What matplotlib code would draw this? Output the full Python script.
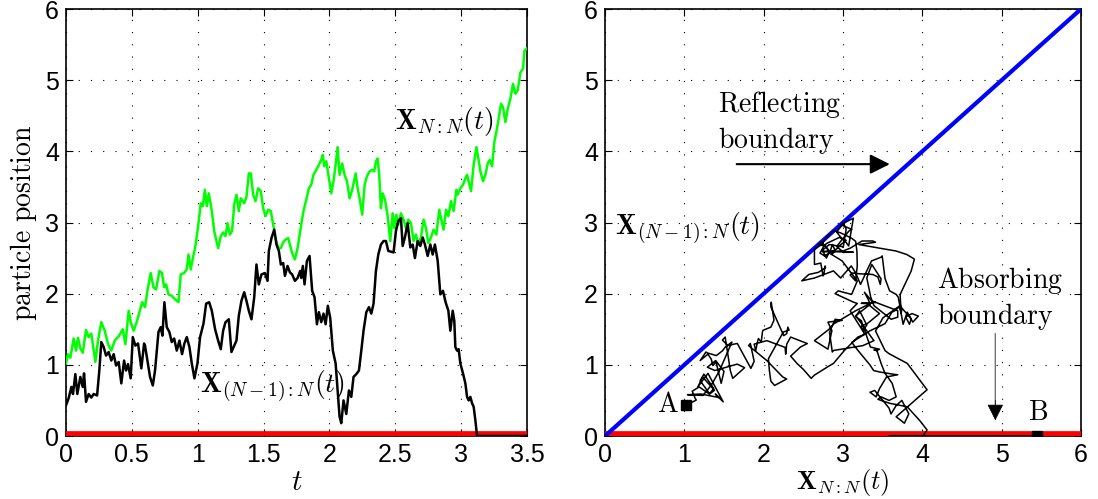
import numpy as np
import matplotlib
matplotlib.use("Agg")
import matplotlib.pyplot as plt

plt.rcParams['mathtext.fontset'] = 'cm'

# ---------------- data ----------------
# top particle X_{N:N}(t)  (green)
t_top = [0, 0.015, 0.033, 0.058, 0.076, 0.091, 0.109, 0.127, 0.152, 0.172, 0.192, 0.223, 0.243, 0.268,
         0.294, 0.319, 0.344, 0.370, 0.400, 0.431, 0.451, 0.476, 0.494, 0.514, 0.540, 0.578,
         0.600, 0.618, 0.643, 0.664, 0.684, 0.709, 0.729, 0.745, 0.760, 0.778, 0.803, 0.828, 0.854,
         0.871, 0.897, 0.917, 0.930, 0.947, 0.963, 0.980, 0.993, 1.008, 1.023, 1.039, 1.054, 1.069,
         1.084, 1.107, 1.125,
         1.155, 1.175, 1.193, 1.211, 1.226, 1.244, 1.261, 1.277, 1.294, 1.312, 1.327, 1.353, 1.370,
         1.388, 1.403, 1.421, 1.439, 1.459, 1.479, 1.497, 1.515, 1.535, 1.555, 1.573, 1.591, 1.611,
         1.631, 1.649, 1.667, 1.687, 1.700, 1.717, 1.738, 1.758, 1.778,
         1.786, 1.803, 1.824, 1.844, 1.862, 1.879, 1.900, 1.920, 1.938, 1.950, 1.960, 1.976, 1.996,
         2.014, 2.031, 2.047, 2.062, 2.077, 2.097, 2.115, 2.133, 2.153, 2.173, 2.199, 2.216, 2.229,
         2.249, 2.267, 2.285, 2.305, 2.325,
         2.340, 2.353, 2.366, 2.378, 2.391, 2.404, 2.422, 2.442, 2.462, 2.480, 2.492, 2.508, 2.523,
         2.543, 2.563, 2.581, 2.599, 2.619, 2.639, 2.657, 2.675, 2.695, 2.715, 2.733, 2.751, 2.771,
         2.791, 2.812, 2.834, 2.852, 2.867, 2.885, 2.903, 2.923, 2.943, 2.964,
         2.974, 2.994, 3.014, 3.032, 3.045, 3.057, 3.075, 3.095, 3.116, 3.131, 3.146, 3.166, 3.184,
         3.202, 3.217, 3.235, 3.252, 3.267, 3.285, 3.303, 3.318, 3.336, 3.354, 3.374, 3.394, 3.412,
         3.430, 3.450, 3.470, 3.480, 3.495]
x_top = [1.02, 1.15, 1.10, 1.37, 1.20, 1.38, 1.23, 1.17, 1.49, 1.39, 1.44, 1.04, 1.34, 1.60,
         1.48, 1.29, 1.20, 1.34, 1.40, 1.50, 1.29, 1.76, 1.58, 1.48, 1.62, 1.88,
         1.81, 2.04, 2.29, 2.09, 2.06, 2.32, 2.29, 2.09, 2.13, 1.99, 1.97, 1.92, 1.88,
         2.27, 2.29, 2.34, 2.55, 2.34, 2.50, 2.64, 2.81, 3.02, 3.27, 3.23, 3.46, 3.23,
         3.41, 3.16, 2.88,
         2.64, 2.81, 2.86, 2.81, 2.99, 2.83, 2.88, 3.25, 3.39, 3.16, 3.34, 3.27, 3.36,
         3.69, 3.69, 3.39, 3.30, 3.48, 3.44, 3.20, 3.09, 3.18, 3.16, 2.97, 2.78, 2.64,
         2.64, 2.72, 2.76, 2.78, 2.69, 2.57, 2.48, 2.64, 2.88,
         2.97, 3.16, 3.32, 3.48, 3.53, 3.67, 3.74, 3.81, 3.88, 3.95, 3.79, 3.86, 3.62,
         3.41, 3.58, 3.81, 4.06, 3.67, 3.83, 3.67, 3.58, 3.34, 3.46, 3.69, 3.46, 3.34,
         3.11, 3.53, 3.65, 3.72, 3.74,
         3.72, 3.86, 3.90, 3.67, 3.20, 3.41, 3.32, 3.09, 2.74, 3.13, 2.92, 3.11, 2.97,
         3.13, 3.04, 2.92, 3.04, 2.99, 2.74, 2.83, 2.69, 2.79, 3.04, 2.92, 2.71, 2.79,
         2.90, 2.83, 3.18, 3.02, 2.90, 3.18, 3.09, 3.30, 3.16, 3.46,
         3.39, 3.48, 3.53, 3.62, 3.67, 3.58, 3.44, 3.81, 4.06, 3.90, 3.72, 3.58, 3.67,
         3.83, 3.88, 3.79, 4.13, 4.27, 4.46, 4.67, 4.62, 4.41, 4.60, 4.74, 4.95, 4.81,
         4.86, 5.11, 5.16, 5.41, 5.44]

# second particle X_{(N-1):N}(t)  (black)
t_second = [0, 0.020, 0.041, 0.053, 0.071, 0.086, 0.109, 0.127, 0.137, 0.152, 0.172, 0.192, 0.210,
            0.236, 0.253, 0.268, 0.286, 0.304, 0.324, 0.344, 0.362, 0.380, 0.400, 0.420, 0.441,
            0.456, 0.471, 0.491, 0.507, 0.527, 0.547, 0.572, 0.593,
            0.600, 0.618, 0.638, 0.659, 0.676, 0.702, 0.719, 0.732, 0.747, 0.765, 0.785, 0.803,
            0.821, 0.841, 0.861, 0.881, 0.899, 0.917, 0.937, 0.955, 0.975, 0.998, 1.018, 1.044,
            1.064, 1.087, 1.107, 1.132,
            1.155, 1.175, 1.193, 1.211, 1.236, 1.256, 1.277, 1.294, 1.312, 1.332, 1.353, 1.370,
            1.388, 1.408, 1.429, 1.446, 1.464, 1.484, 1.510, 1.530, 1.540, 1.560, 1.581, 1.598,
            1.616, 1.631, 1.649, 1.662, 1.682, 1.700, 1.717, 1.738, 1.758, 1.778,
            1.786, 1.798, 1.811, 1.829, 1.849, 1.869, 1.887, 1.905, 1.920, 1.938, 1.955, 1.971,
            1.988, 2.006, 2.026, 2.047, 2.064, 2.077, 2.090, 2.107, 2.128, 2.148, 2.166, 2.183,
            2.204, 2.224, 2.242, 2.259, 2.280, 2.300, 2.318, 2.335,
            2.353, 2.371, 2.391, 2.411, 2.429, 2.447, 2.467, 2.487, 2.505, 2.523, 2.543, 2.556,
            2.573, 2.594, 2.614, 2.632, 2.649, 2.670, 2.690, 2.708, 2.725, 2.746, 2.766, 2.784,
            2.801, 2.822, 2.842, 2.862, 2.882, 2.903, 2.918, 2.936, 2.948,
            2.956, 2.969, 2.981, 2.994, 3.014, 3.032, 3.045, 3.057, 3.070, 3.083, 3.095, 3.108,
            3.121, 3.5]
x_second = [0.43, 0.53, 0.69, 0.59, 0.87, 0.59, 0.83, 0.69, 0.88, 0.48, 0.59, 0.54, 0.59,
            0.57, 0.92, 1.32, 1.25, 1.13, 1.18, 1.06, 1.15, 0.99, 1.04, 0.74, 1.06,
            0.92, 1.01, 0.81, 1.39, 1.27, 1.30, 0.95, 1.30,
            1.27, 1.06, 0.83, 0.71, 0.92, 1.46, 1.53, 1.41, 1.88, 1.53, 1.46, 1.32,
            1.37, 1.20, 1.34, 1.15, 1.30, 1.39, 1.25, 1.02, 0.81, 1.02, 1.39, 1.58,
            1.86, 1.88, 1.76, 1.50,
            1.34, 1.22, 1.48, 1.60, 1.64, 1.18, 1.27, 1.34, 1.69, 1.90, 2.02, 1.90,
            1.76, 1.64, 1.95, 2.41, 2.13, 2.27, 2.29, 2.18, 2.60, 2.78, 2.90, 2.69,
            2.60, 2.41, 2.43, 2.25, 2.39, 2.30, 2.27, 2.18, 2.22, 2.32,
            2.22, 2.39, 2.13, 2.46, 2.53, 2.04, 1.95, 1.57, 1.74, 1.60, 1.72, 1.57,
            1.83, 1.66, 1.20, 1.02, 0.60, 0.27, 0.18, 0.50, 0.31, 0.64, 0.55, 0.83,
            0.87, 0.92, 1.20, 1.48, 1.74, 1.81, 1.72, 1.86,
            2.32, 2.55, 2.69, 2.74, 2.74, 2.60, 2.59, 2.58, 2.88, 3.02, 3.06, 2.67,
            2.79, 2.99, 2.65, 2.69, 2.50, 2.74, 2.67, 2.79, 2.69, 2.53, 2.69, 2.55,
            2.69, 2.46, 1.99, 2.04, 1.88, 1.76, 1.48, 1.76, 1.62,
            1.25, 1.20, 1.22, 1.02, 0.88, 0.74, 0.55, 0.50, 0.55, 0.46, 0.41, 0.22,
            0.0, 0.0]

# boundaries
absorbing_x = [0, 6]
absorbing_y = [0, 0]
reflecting_x = [0, 6]
reflecting_y = [0, 6]
t_range = [0, 3.5]

left_xticks = [0, 0.5, 1, 1.5, 2, 2.5, 3, 3.5]
left_xticklabels = ['0', '0.5', '1', '1.5', '2', '2.5', '3', '3.5']
yticks = [0, 1, 2, 3, 4, 5, 6]
right_xticks = [0, 1, 2, 3, 4, 5, 6]

# ---------------- figure ----------------
tick_family = ['Liberation Sans Narrow', 'Liberation Sans', 'DejaVu Sans']
GREEN = '#00ff00'

fig = plt.figure(figsize=(10.98, 4.99), dpi=100)
axL = fig.add_axes([66/1098, 63/499, 461/1098, 427/499])
axR = fig.add_axes([605/1098, 63/499, 476/1098, 427/499])

for ax in (axL, axR):
    ax.grid(True, color='k', linestyle=(0, (1, 10)), linewidth=0.8)
    ax.tick_params(direction='in', length=5, width=0.8, top=True, right=True,
                   labelsize=18, pad=5)
    for sp in ax.spines.values():
        sp.set_linewidth(1.2)
    ax.set_ylim(0, 6)
    ax.set_yticks(yticks)

# left panel
axL.plot(t_range, [0, 0], color='red', lw=7, zorder=3)
axL.plot(t_top, x_top, color=GREEN, lw=1.8, zorder=4)
axL.plot(t_second, x_second, color='k', lw=1.8, zorder=4)
axL.set_xlim(0, 3.5)
axL.set_xticks(left_xticks)
axL.set_xticklabels(left_xticklabels)
axL.set_xlabel(r'$t$', fontsize=21, labelpad=1)
axL.set_ylabel(r'$\mathrm{particle\ position}$', fontsize=20, labelpad=4)
axL.text(2.50, 4.31, r'$\mathbf{X}_{N:N}(t)$', fontsize=20, ha='left', va='baseline')
axL.text(1.02, 0.62, r'$\mathbf{X}_{(N-1):N}(t)$', fontsize=20, ha='left', va='baseline')

# right panel: phase plane (X_{N:N}, X_{(N-1):N})
t_all = np.union1d(t_top, t_second)
px = np.interp(t_all, t_top, x_top)
py = np.minimum(np.interp(t_all, t_second, x_second), px)

axR.plot(absorbing_x, absorbing_y, color='red', lw=7, zorder=3)
axR.plot(reflecting_x, reflecting_y, color='blue', lw=3, zorder=3)
axR.plot(px, py, color='k', lw=1.1, zorder=4)
axR.plot([px[0]], [py[0]], 's', color='k', ms=7, zorder=5)
axR.plot([px[-1]], [py[-1]], 's', color='k', ms=7, zorder=5)
axR.set_xlim(0, 6)
axR.set_xticks(right_xticks)
axR.set_xlabel(r'$\mathbf{X}_{N:N}(t)$', fontsize=19, labelpad=0)

axR.text(0.13, 2.84, r'$\mathbf{X}_{(N-1):N}(t)$', fontsize=20, ha='left', va='baseline')
axR.text(1.42, 4.55, r'$\mathrm{Reflecting}$', fontsize=20, ha='left', va='baseline')
axR.text(1.42, 4.05, r'$\mathrm{boundary}$', fontsize=20, ha='left', va='baseline')
axR.text(4.18, 2.08, r'$\mathrm{Absorbing}$', fontsize=20, ha='left', va='baseline')
axR.text(4.18, 1.57, r'$\mathrm{boundary}$', fontsize=20, ha='left', va='baseline')
axR.text(0.66, 0.34, r'$\mathrm{A}$', fontsize=20, ha='left', va='baseline')
axR.text(5.33, 0.22, r'$\mathrm{B}$', fontsize=20, ha='left', va='baseline')

axR.annotate('', xy=(3.59, 3.82), xytext=(1.66, 3.82),
             arrowprops=dict(arrowstyle='-|>', color='k', lw=1.5, mutation_scale=30,
                             shrinkA=0, shrinkB=0), zorder=6)
# absorbing arrow: grey shaft, black head
axR.annotate('', xy=(4.92, 0.30), xytext=(4.92, 1.44),
             arrowprops=dict(arrowstyle='-', color='0.45', lw=1.0,
                             shrinkA=0, shrinkB=0), zorder=6)
axR.annotate('', xy=(4.92, 0.22), xytext=(4.92, 0.5),
             arrowprops=dict(arrowstyle='-|>', color='k', lw=0.5, mutation_scale=26,
                             shrinkA=0, shrinkB=0), zorder=6)

for ax in (axL, axR):
    for lab in ax.get_xticklabels() + ax.get_yticklabels():
        lab.set_family(tick_family)
        lab.set_fontsize(18)

fig.savefig('out.png', dpi=100)
